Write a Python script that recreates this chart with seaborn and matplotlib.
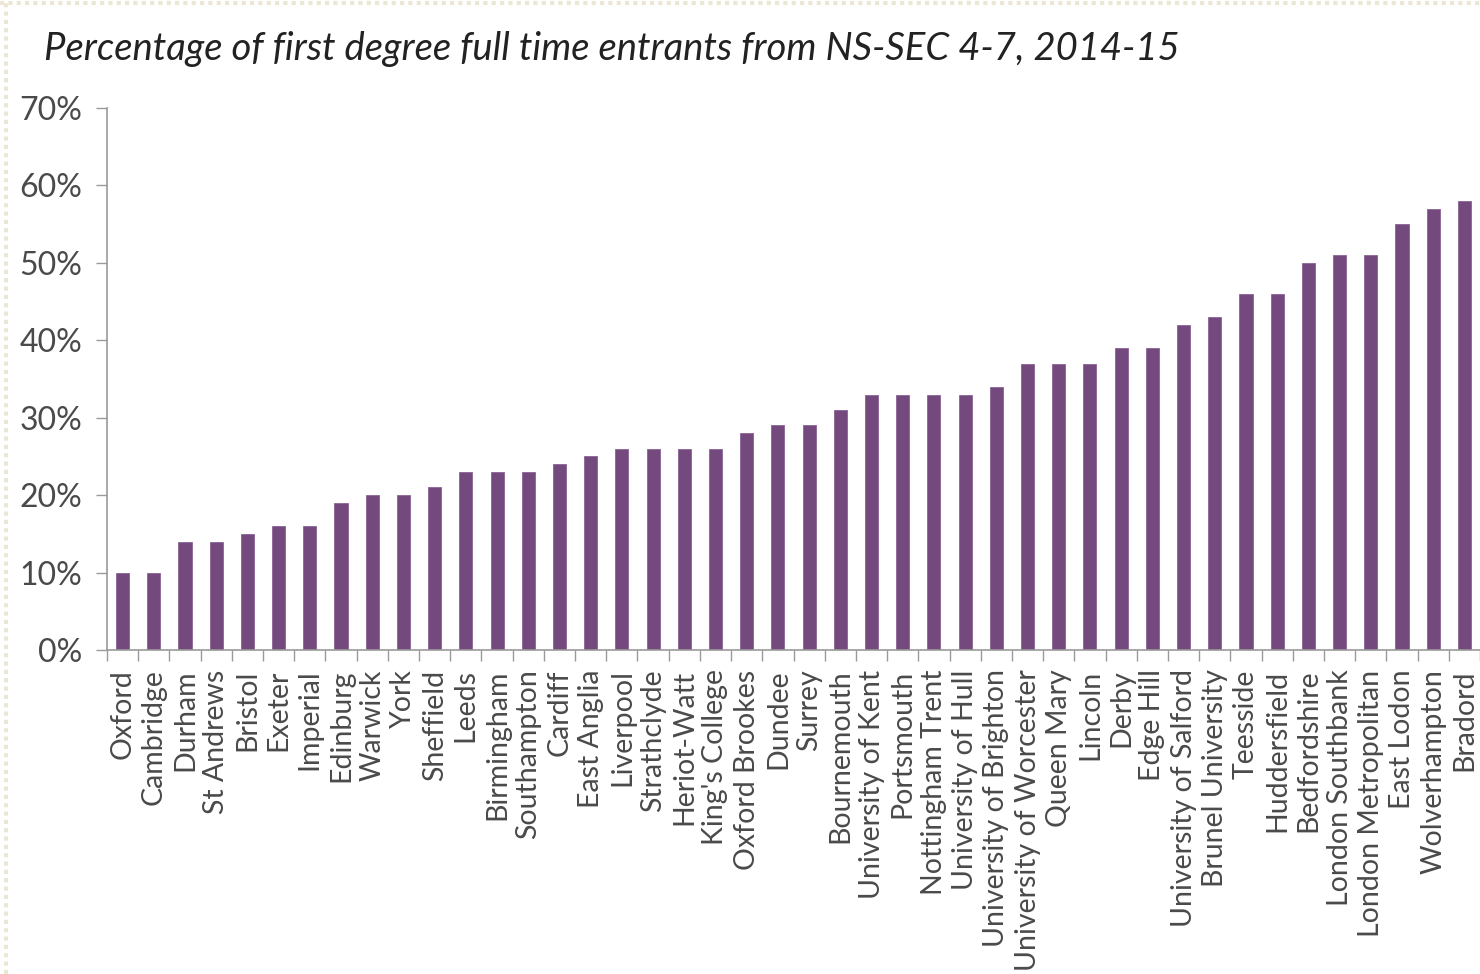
import numpy as np
import pandas as pd
import seaborn as sns
import matplotlib.pyplot as plt
from matplotlib.ticker import PercentFormatter

universities = [
    "Oxford", "Cambridge", "Durham", "St Andrews", "Bristol", "Exeter", "Imperial",
    "Edinburg", "Warwick", "York", "Sheffield", "Leeds", "Birmingham", "Southampton",
    "Cardiff", "East Anglia", "Liverpool", "Strathclyde", "Heriot-Watt", "King's College",
    "Oxford Brookes", "Dundee", "Surrey", "Bournemouth", "University of Kent", "Portsmouth",
    "Nottingham Trent", "University of Hull", "University of Brighton",
    "University of Worcester", "Queen Mary", "Lincoln", "Derby", "Edge Hill",
    "University of Salford", "Brunel University", "Teesside", "Huddersfield",
    "Bedfordshire", "London Southbank", "London Metropolitan", "East Lodon",
    "Wolverhampton", "Bradord",
]
share = [
    10, 10, 14, 14, 15, 16, 16, 19, 20, 20, 21, 23, 23, 23, 24, 25, 26, 26, 26, 26,
    28, 29, 29, 31, 33, 33, 33, 33, 34, 37, 37, 37, 39, 39, 42, 43, 46, 46, 50, 51,
    51, 55, 57, 58,
]
y_ticks = [0, 10, 20, 30, 40, 50, 60, 70]

df = pd.DataFrame({"University": universities, "Share": share})

sns.set_theme(style="white")
plt.rcParams["font.family"] = ["Lato", "DejaVu Sans"]

fig = plt.figure(figsize=(14.8, 9.74), dpi=100)
ax = fig.add_axes([0.0723, 0.3326, 0.9277, 0.5565])

sns.barplot(data=df, x="University", y="Share", color="#744a7e", saturation=1,
            width=0.42, edgecolor="#8a6493", linewidth=0.6, ax=ax)

ax.set_xlim(-0.5, len(universities) - 0.5)
ax.set_ylim(0, 70)
ax.set_yticks(y_ticks)
ax.yaxis.set_major_formatter(PercentFormatter(decimals=0))
ax.set_xlabel("")
ax.set_ylabel("")

# ticks between categories, labels under bars
ax.set_xticks(np.arange(-0.5, len(universities)), minor=True)
ax.tick_params(axis="x", which="major", length=0, pad=14, labelsize=20.5,
               labelcolor="#4a4a4a", rotation=90)
ax.tick_params(axis="x", which="minor", length=8, width=1, color="#9a9a9a",
               direction="out", bottom=True)
ax.tick_params(axis="y", length=8, width=1, color="#9a9a9a", direction="out",
               left=True, labelsize=23, labelcolor="#4a4a4a", pad=10)

for side in ["top", "right"]:
    ax.spines[side].set_visible(False)
for side in ["left", "bottom"]:
    ax.spines[side].set_color("#9a9a9a")
    ax.spines[side].set_linewidth(1.2)

fig.text(0.030, 0.950, "Percentage of first degree full time entrants from NS-SEC 4-7, 2014-15",
         fontsize=27.5, style="italic", color="#222222", ha="left", va="center")

# faint frame like the source image
fig.add_artist(plt.Line2D([0.004, 0.004], [0, 1], color="#ece7d4", lw=3, ls=(0, (1, 1))))
fig.add_artist(plt.Line2D([0, 1], [0.997, 0.997], color="#ece7d4", lw=3, ls=(0, (1, 1))))

fig.savefig("out.png", dpi=100)
